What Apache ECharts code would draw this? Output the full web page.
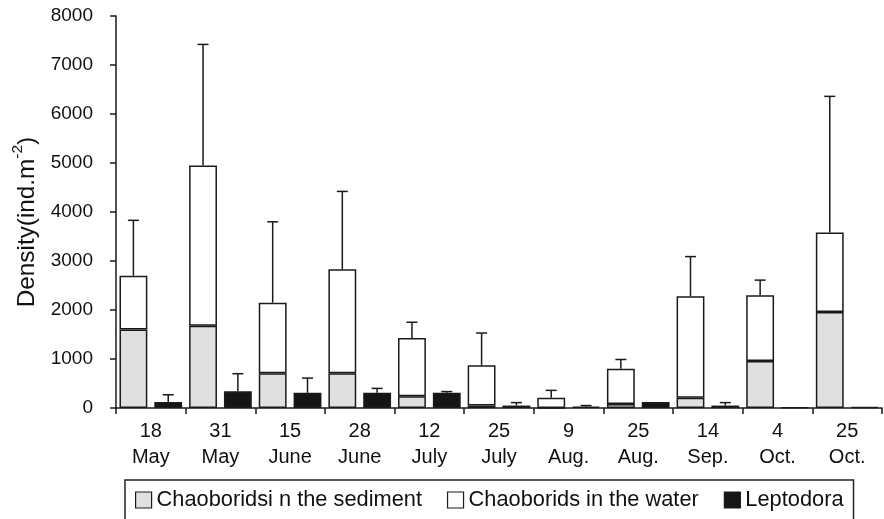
<!DOCTYPE html>
<html>
<head>
<meta charset="utf-8">
<script src="https://cdn.jsdelivr.net/npm/echarts@6/dist/echarts.min.js"></script>
<style>
html,body{margin:0;padding:0;background:#fff;}
#chart{width:884px;height:519px;}
</style>
</head>
<body>
<div id="chart"></div>
<script>
// ---- data ----
const categories = ['18\nMay', '31\nMay', '15\nJune', '28\nJune', '12\nJuly', '25\nJuly', '9\nAug.', '25\nAug.', '14\nSep.', '4\nOct.', '25\nOct.'];
const sediment   = [1600, 1680, 710, 710, 240, 50, 0, 80, 210, 960, 1960];
const water      = [1100, 3270, 1440, 2120, 1190, 820, 210, 720, 2070, 1340, 1620];
const leptodora  = [120, 340, 310, 310, 310, 50, 30, 120, 50, 10, 25];
const chaoSD     = [1130, 2470, 1650, 1590, 320, 660, 150, 190, 810, 310, 2780];
const leptoSD    = [150, 360, 300, 90, 25, 60, 20, 0, 60, 0, 0];
const yTicks     = [0, 1000, 2000, 3000, 4000, 5000, 6000, 7000, 8000];
const seriesNames = ['Chaoboridsi n the sediment', 'Chaoborids in the water', 'Leptodora'];

// ---- build error-bar data: [categoryIndex, base, top, side] ----
const errData = [];
categories.forEach((c, i) => {
  const tot = sediment[i] + water[i];
  if (chaoSD[i] > 0) errData.push([i, tot, tot + chaoSD[i], -1]);
  if (leptoSD[i] > 0) errData.push([i, leptodora[i], leptodora[i] + leptoSD[i], 1]);
});

const FONT = "'Liberation Sans', Arial, Helvetica, sans-serif";
const chart = echarts.init(document.getElementById('chart'), null, {renderer: 'canvas'});

const border = {borderColor: '#1a1a1a', borderWidth: 1.5};

chart.setOption({
  animation: false,
  backgroundColor: '#ffffff',
  textStyle: {fontFamily: FONT, color: '#111'},
  grid: {left: 116, right: 2, top: 16, bottom: 111, containLabel: false, outerBoundsMode: 'none'},
  legend: {
    data: seriesNames.map(n => ({name: n, icon: 'rect'})),
    left: 125, top: 480,
    orient: 'horizontal',
    itemWidth: 16, itemHeight: 16,
    itemGap: 25,
    padding: [9, 10],
    borderColor: '#222', borderWidth: 1.5,
    textStyle: {fontSize: 21.8, fontFamily: FONT, color: '#111'},
    itemStyle: {borderColor: '#1a1a1a', borderWidth: 1.2},
    selectedMode: false
  },
  xAxis: {
    type: 'category',
    data: categories,
    boundaryGap: true,
    axisLine: {lineStyle: {color: '#1a1a1a', width: 1.5}},
    axisTick: {show: true, alignWithLabel: false, length: 6, lineStyle: {color: '#1a1a1a', width: 1.5}},
    axisLabel: {fontSize: 20, color: '#111', margin: 10, lineHeight: 26, interval: 0, fontFamily: FONT},
    splitLine: {show: false}
  },
  yAxis: {
    type: 'value',
    min: yTicks[0], max: yTicks[yTicks.length - 1], interval: 1000,
    axisLine: {show: true, lineStyle: {color: '#1a1a1a', width: 1.5}},
    axisTick: {show: true, length: 6, lineStyle: {color: '#1a1a1a', width: 1.5}},
    axisLabel: {fontSize: 19, color: '#111', margin: 23, fontFamily: FONT, formatter: v => String(v)},
    splitLine: {show: false},
    name: '{a|Density(ind.m}{s|-2}{a|)}',
    nameLocation: 'middle',
    nameRotate: 90,
    nameGap: 77,
    nameTextStyle: {
      padding: [0, 20, 0, 0],
      rich: {
        a: {fontSize: 24.3, fontFamily: FONT, color: '#111', lineHeight: 29, verticalAlign: 'bottom'},
        s: {fontSize: 15.5, fontFamily: FONT, color: '#111', lineHeight: 29, verticalAlign: 'top'}
      }
    }
  },
  series: [
    {
      name: seriesNames[0], type: 'bar', stack: 'chao', data: sediment,
      barCategoryGap: '10%', barGap: '25%',
      itemStyle: Object.assign({color: '#e0e0e0'}, border)
    },
    {
      name: seriesNames[1], type: 'bar', stack: 'chao', data: water,
      itemStyle: Object.assign({color: '#ffffff'}, border)
    },
    {
      name: seriesNames[2], type: 'bar', data: leptodora,
      itemStyle: Object.assign({color: '#151515'}, border)
    },
    {
      name: 'error', type: 'custom', data: errData, z: 5,
      encode: {x: 0, y: [1, 2]},
      renderItem: function (params, api) {
        const cat = api.value(0);
        const base = api.value(1), top = api.value(2), side = api.value(3);
        const bw = api.size([1, 0])[0];
        const p0 = api.coord([cat, base]);
        const p1 = api.coord([cat, top]);
        const x = p0[0] + side * bw * 0.25;
        const half = 5.5;
        const st = {stroke: '#1a1a1a', lineWidth: 1.5};
        return {
          type: 'group',
          children: [
            {type: 'line', shape: {x1: x, y1: p0[1], x2: x, y2: p1[1]}, style: st},
            {type: 'line', shape: {x1: x - half, y1: p1[1], x2: x + half, y2: p1[1]}, style: st}
          ]
        };
      }
    }
  ]
});
</script>
</body>
</html>
